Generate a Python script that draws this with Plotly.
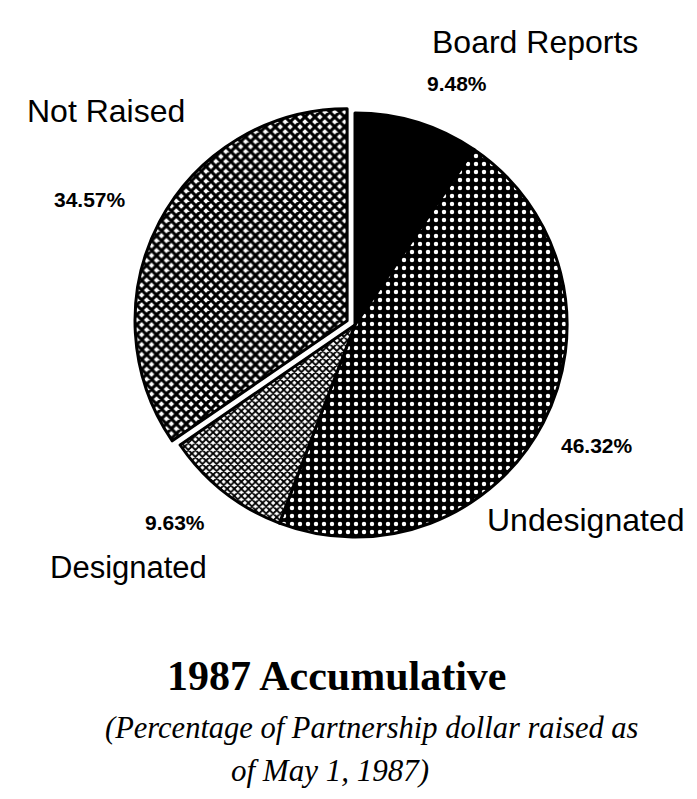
import plotly.graph_objects as go

# ---- data ----
categories = ["Board Reports", "Undesignated", "Designated", "Not Raised"]
percentages = [9.48, 46.32, 9.63, 34.57]
pct_labels = ["9.48%", "46.32%", "9.63%", "34.57%"]
title_text = "1987 Accumulative"
subtitle_lines = ["(Percentage of Partnership dollar raised as", "of May 1, 1987)"]

# ---- styles ----
PAGE_W, PAGE_H = 697, 799
OFF = 8  # default body margin of the html page
W, H = PAGE_W - 2 * OFF, PAGE_H - 2 * OFF
pulls = [0, 0, 0, 0.042]
pattern_shapes = ["", ".", "x", "x"]
pattern_bg = ["black", "black", "white", "white"]
pattern_fg = ["black", "white", "black", "black"]
pattern_size = [6, 8, 5, 7]
pattern_solid = [0.3, 0.24, 0.6, 0.68]

cx, cy, half = 355, 325, 221  # pie box centre / half size in page px


def px_x(x):
    return (x - OFF) / W


def px_y(y):
    return 1 - (y - OFF) / H


fig = go.Figure(
    go.Pie(
        labels=categories,
        values=percentages,
        sort=False,
        direction="clockwise",
        rotation=0,
        pull=pulls,
        textinfo="none",
        hoverinfo="label+percent",
        marker=dict(
            colors=pattern_bg,
            line=dict(color="black", width=3),
            pattern=dict(
                shape=pattern_shapes,
                bgcolor=pattern_bg,
                fgcolor=pattern_fg,
                size=pattern_size,
                solidity=pattern_solid,
                fillmode="replace",
            ),
        ),
        domain=dict(
            x=[px_x(cx - half), px_x(cx + half)],
            y=[px_y(cy + half), px_y(cy - half)],
        ),
        showlegend=False,
    )
)

label_font = "Liberation Sans, Arial, sans-serif"
serif_font = "Liberation Serif, Times New Roman, serif"

# name label positions (page px) and sizes
name_pos = [(535, 42, 32), (585, 520, 32), (128, 567, 31), (106, 111, 32)]
pct_pos = [(457, 84), (597, 445), (175, 522), (90, 200)]

annotations = []
for name, (x, y, s) in zip(categories, name_pos):
    annotations.append(dict(text=name, x=px_x(x), y=px_y(y), xref="paper", yref="paper",
                            showarrow=False, xanchor="center", yanchor="middle",
                            font=dict(family=label_font, size=s, color="black")))
for t, (x, y) in zip(pct_labels, pct_pos):
    annotations.append(dict(text=f"<b>{t}</b>", x=px_x(x), y=px_y(y), xref="paper", yref="paper",
                            showarrow=False, xanchor="center", yanchor="middle",
                            font=dict(family=label_font, size=21, color="black")))

annotations.append(dict(text=f"<b>{title_text}</b>", x=px_x(336), y=px_y(676), xref="paper", yref="paper",
                        showarrow=False, xanchor="center", yanchor="middle",
                        font=dict(family=serif_font, size=42, color="black")))
sub_pos = [(371, 728, 30.5), (330, 770, 31)]
for t, (x, y, s) in zip(subtitle_lines, sub_pos):
    annotations.append(dict(text=f"<i>{t}</i>", x=px_x(x), y=px_y(y), xref="paper", yref="paper",
                            showarrow=False, xanchor="center", yanchor="middle",
                            font=dict(family=serif_font, size=s, color="black")))

fig.update_layout(
    width=W,
    height=H,
    margin=dict(l=0, r=0, t=0, b=0),
    paper_bgcolor="white",
    plot_bgcolor="white",
    annotations=annotations,
)

fig.write_html("out.html")
